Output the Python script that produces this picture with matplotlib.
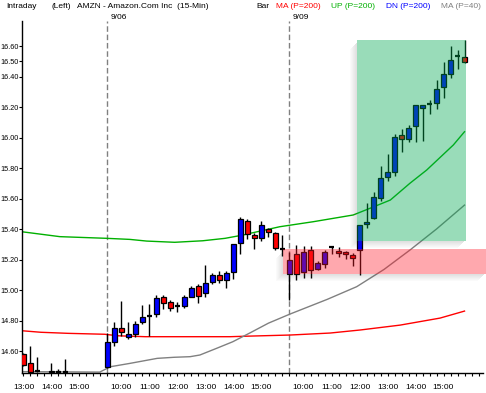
import matplotlib
matplotlib.use("Agg")
import matplotlib.pyplot as plt
from matplotlib.patches import Rectangle
import numpy as np

plt.rcParams["font.family"] = ["Liberation Sans", "DejaVu Sans"]

nan = float("nan")

# 15-min bars, index 0 = 13:00 on 9/05, 12 = 9:30 on 9/06, 38 = 9:30 on 9/09
opens = [14.58, 14.52, 14.47, nan, 14.46, 14.46, 14.46, nan, nan, nan, nan, nan,
         14.497, 14.66, 14.75, 14.69, 14.71, 14.79, 14.832, 14.84, 14.953, 14.92,
         14.897, 14.893, 14.956, 15.026, 14.978, 15.05, 15.096, 15.064, 15.117, 15.306,
         15.455, 15.36, 15.343, 15.398, 15.372, 15.27,
         15.103, 15.236, 15.116, 15.264, 15.138, 15.169, 15.28, 15.256, 15.247, 15.229,
         15.262, 15.431, 15.47, 15.606, 15.743, 15.776, 16.014, 15.988, 16.077, 16.196,
         16.222, 16.228, 16.333, 16.418, 16.534, 16.526]
highs = [14.59, 14.63, 14.56, nan, 14.52, 14.48, 14.55, nan, nan, nan, nan, nan,
         14.72, 14.79, 14.928, 14.788, 14.797, 14.90, 14.908, 14.97, 14.97, 14.934,
         14.92, 14.967, 15.028, 15.039, 15.164, 15.109, 15.125, 15.125, 15.30, 15.481,
         15.466, 15.372, 15.455, 15.409, 15.38, 15.36,
         15.25, 15.295, 15.289, 15.289, 15.19, 15.262, 15.289, 15.284, 15.256, 15.24,
         15.426, 15.568, 15.64, 15.813, 15.892, 16.023, 16.056, 16.082, 16.211, 16.211,
         16.246, 16.377, 16.493, 16.60, 16.574, 16.639]
lows = [14.50, 14.46, 14.465, nan, 14.455, 14.455, 14.455, nan, nan, nan, nan, nan,
        14.49, 14.63, 14.698, 14.68, 14.69, 14.78, 14.698, 14.82, 14.873, 14.864,
        14.855, 14.884, 14.953, 14.917, 14.956, 15.037, 15.044, 15.011, 15.074, 15.234,
        15.334, 15.267, 15.323, 15.35, 15.262, 15.22,
        14.937, 15.066, 15.077, 15.08, 15.13, 15.146, 15.234, 15.218, 15.203, 15.157,
        15.098, 15.405, 15.464, 15.586, 15.717, 15.75, 15.907, 15.972, 15.972, 15.977,
        16.152, 16.187, 16.261, 16.392, 16.447, 16.49]
closes = [14.51, 14.465, 14.47, nan, 14.47, 14.46, 14.46, nan, nan, nan, nan, nan,
          14.659, 14.75, 14.727, 14.709, 14.78, 14.82, 14.832, 14.95, 14.913, 14.88,
          14.897, 14.953, 15.011, 14.963, 15.044, 15.096, 15.066, 15.114, 15.30, 15.466,
          15.367, 15.34, 15.426, 15.378, 15.273, 15.27,
          15.197, 15.103, 15.247, 15.131, 15.179, 15.247, 15.28, 15.241, 15.234, 15.208,
          15.426, 15.444, 15.608, 15.732, 15.771, 16.001, 15.988, 16.06, 16.211, 16.211,
          16.222, 16.316, 16.414, 16.506, 16.534, 16.497]

# moving averages, knots at bar positions
ma200_x = [-0.2, 2.5, 6.4, 11.6, 13.5, 17.4, 29.5, 32.4, 38.1, 43.8, 48.1, 53.8, 59.5, 63]
ma200_y = [14.733, 14.723, 14.716, 14.710, 14.700, 14.694, 14.694, 14.698, 14.705,
           14.718, 14.738, 14.770, 14.816, 14.862]
up200_x = [-0.2, 5.2, 11.9, 15.2, 17.6, 21.6, 25.6, 28.8, 31.4, 32.4, 36.6, 41.4, 47.1,
           49.5, 52.4, 55.2, 57.6, 61.4, 63]
up200_y = [15.382, 15.350, 15.339, 15.332, 15.321, 15.313, 15.323, 15.339, 15.361,
           15.372, 15.415, 15.448, 15.492, 15.536, 15.590, 15.700, 15.787, 15.951, 16.038]
ma40_x = [-0.2, 10.9, 12.4, 15.2, 19.1, 21.5, 23.8, 25.2, 27.6, 29.9, 32.4, 35.0, 38.1,
          43.4, 47.6, 51.5, 55.2, 59.0, 63]
ma40_y = [14.465, 14.462, 14.497, 14.519, 14.552, 14.559, 14.563, 14.574, 14.618, 14.661,
          14.720, 14.783, 14.843, 14.939, 15.022, 15.135, 15.262, 15.400, 15.557]

yticks = [14.6, 14.8, 15.0, 15.2, 15.4, 15.6, 15.8, 16.0, 16.2, 16.4, 16.5, 16.6]
hour_pos = [0, 4, 8, 14, 18, 22, 26, 30, 34, 40, 44, 48, 52, 56, 60]
hour_lab = ["13:00", "14:00", "15:00", "10:00", "11:00", "12:00", "13:00", "14:00",
            "15:00", "10:00", "11:00", "12:00", "13:00", "14:00", "15:00"]
day_pos = [12, 38]
day_lab = ["9/06", "9/09"]

fig = plt.figure(figsize=(4.86, 3.93), dpi=100)
ax = fig.add_axes([22 / 486, 20 / 393, 461 / 486, 352 / 393])
ax.set_xlim(-0.21, 65.64)
ax.set_ylim(14.456, 16.764)

for s in ["top", "right"]:
    ax.spines[s].set_visible(False)
for s in ["left", "bottom"]:
    ax.spines[s].set_linewidth(1.0)

# moving averages
ax.plot(ma200_x, ma200_y, color="#ff0000", lw=1.0, zorder=1)
ax.plot(up200_x, up200_y, color="#00b000", lw=1.0, zorder=1)
ax.plot(ma40_x, ma40_y, color="#808080", lw=1.0, zorder=1)

# candles
o = np.array(opens)
h = np.array(highs)
l = np.array(lows)
c = np.array(closes)
x = np.arange(len(o))
ok = ~np.isnan(o)
ax.vlines(x[ok], l[ok], h[ok], color="black", lw=1.0, zorder=2)
for i in x[ok]:
    if c[i] > o[i]:
        col = "#0000ff"
    elif c[i] < o[i]:
        col = "#ff0000"
    else:
        ax.hlines(o[i], i - 0.32, i + 0.32, color="black", lw=1.6, zorder=3)
        continue
    ax.bar(i, abs(c[i] - o[i]), bottom=min(o[i], c[i]), width=0.62, color=col,
           edgecolor="black", linewidth=0.9, zorder=3)

# day separators
for d, lab in zip(day_pos, day_lab):
    ax.axvline(d, color="#808080", lw=1.0, dashes=(4, 2), zorder=0)
    ax.text(d + 0.45, 1.0, lab, transform=ax.get_xaxis_transform(), fontsize=6,
            va="bottom", ha="left")

# pixel sizes in data units, for the drop shadows
p0 = ax.transData.transform((0, 0))
p1 = ax.transData.transform((1, 1))
px_x = 1 / (p1[0] - p0[0])
px_y = 1 / (p1[1] - p0[1])


def shaded_box(x0, x1, y0, y1, color, alpha):
    for j in range(1, 8):
        a = 0.16 * (8 - j) / 7
        ax.add_patch(Rectangle((x0 - j * px_x, y0 - j * px_y), px_x, (y1 - y0) - 2 * px_y,
                               color="#404040", alpha=a, lw=0, zorder=4, clip_on=False))
        ax.add_patch(Rectangle((x0 - (j - 1) * px_x, y0 - j * px_y),
                               (x1 - x0) - 2 * px_x, px_y,
                               color="#404040", alpha=a, lw=0, zorder=4, clip_on=False))
    ax.add_patch(Rectangle((x0, y0), x1 - x0, y1 - y0, facecolor=color, alpha=alpha,
                           lw=0, zorder=5, clip_on=False))


shaded_box(37.11, 66.07, 15.103, 15.267, "#ff1a2a", 0.38)
shaded_box(47.69, 63.17, 15.323, 16.639, "#00a850", 0.40)

ax.set_yticks(yticks)
ax.set_yticklabels([f"{v:.2f}" for v in yticks])
ax.set_xticks(hour_pos)
ax.set_xticklabels(hour_lab)
ax.set_xticks(np.arange(0, 66), minor=True)
ax.tick_params(axis="y", length=2.2, width=0.8, pad=0.3, labelsize=5.2)
ax.tick_params(axis="x", which="both", length=2.2, width=0.8, pad=5.5, labelsize=6)

# header
hdr = [(6, "Intraday", "black"), (51, "(Left)", "black"),
       (77, "AMZN - Amazon.Com Inc  (15-Min)", "black"), (256, "Bar", "black"),
       (276, "MA (P=200)", "#ff0000"), (331, "UP (P=200)", "#00b000"),
       (386, "DN (P=200)", "#0000ff"), (441, "MA (P=40)", "#808080")]
for px, txt, col in hdr:
    fig.text(px / 486, 1 - 6 / 393, txt, color=col, fontsize=6, va="center", ha="left")

fig.savefig("out.png", dpi=100)
